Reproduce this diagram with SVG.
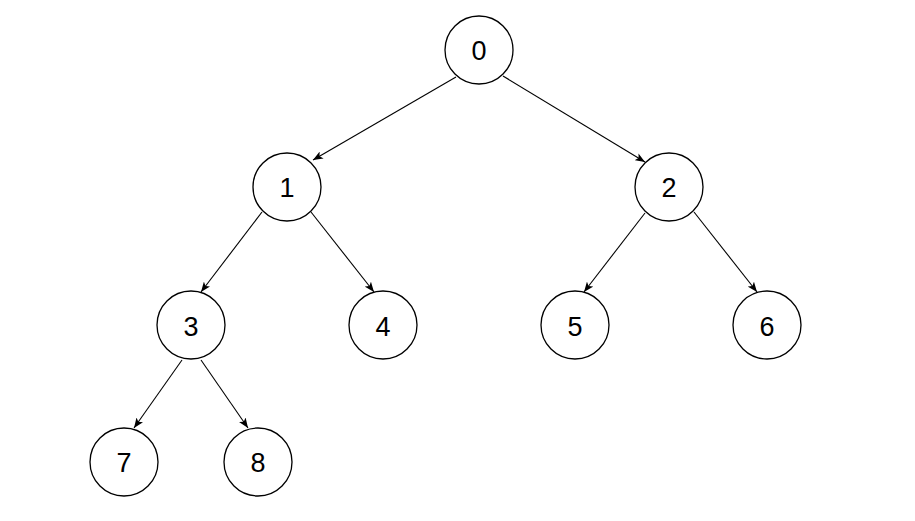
<svg xmlns="http://www.w3.org/2000/svg" width="915" height="521" viewBox="0 0 915 521">
<style>
.n circle{fill:#fff;stroke:#000;stroke-width:1.3}
.n text{fill:#000;text-anchor:middle}
.e line{stroke:#000;stroke-width:1.1;marker-end:url(#ah)}
</style>
<defs>
<marker id="ah" markerUnits="userSpaceOnUse" markerWidth="10" markerHeight="8" viewBox="0 0 10 8" refX="10" refY="4" orient="auto">
<path d="M0,0 L10,4 L0,8 L2.5,4 Z" fill="#000"/>
</marker>
</defs>
<rect width="915" height="521" fill="#fff"/>
<g id="edges" class="e">
<line x1="456" y1="77" x2="313" y2="160"/>
<line x1="503" y1="76" x2="645" y2="162"/>
<line x1="262" y1="212" x2="201" y2="292"/>
<line x1="311" y1="212" x2="374" y2="292"/>
<line x1="645" y1="213" x2="584" y2="292"/>
<line x1="694" y1="212" x2="757" y2="292"/>
<line x1="182" y1="360" x2="134" y2="428"/>
<line x1="201" y1="360" x2="248" y2="428"/>
</g>
<g font-family="Liberation Sans, Arial, sans-serif" font-size="27">
<g id="n0" class="n"><circle cx="479" cy="50" r="34"/><text x="479" y="60">0</text></g>
<g id="n1" class="n"><circle cx="287" cy="187" r="34"/><text x="287" y="197">1</text></g>
<g id="n2" class="n"><circle cx="669" cy="187" r="34"/><text x="669" y="197">2</text></g>
<g id="n3" class="n"><circle cx="191" cy="325" r="34"/><text x="191" y="336">3</text></g>
<g id="n4" class="n"><circle cx="383" cy="325" r="34"/><text x="383" y="336">4</text></g>
<g id="n5" class="n"><circle cx="575" cy="325" r="34"/><text x="575" y="336">5</text></g>
<g id="n6" class="n"><circle cx="767" cy="325" r="34"/><text x="767" y="336">6</text></g>
<g id="n7" class="n"><circle cx="124" cy="462" r="34"/><text x="124" y="472">7</text></g>
<g id="n8" class="n"><circle cx="258" cy="462" r="34"/><text x="258" y="472">8</text></g>
</g>
</svg>
